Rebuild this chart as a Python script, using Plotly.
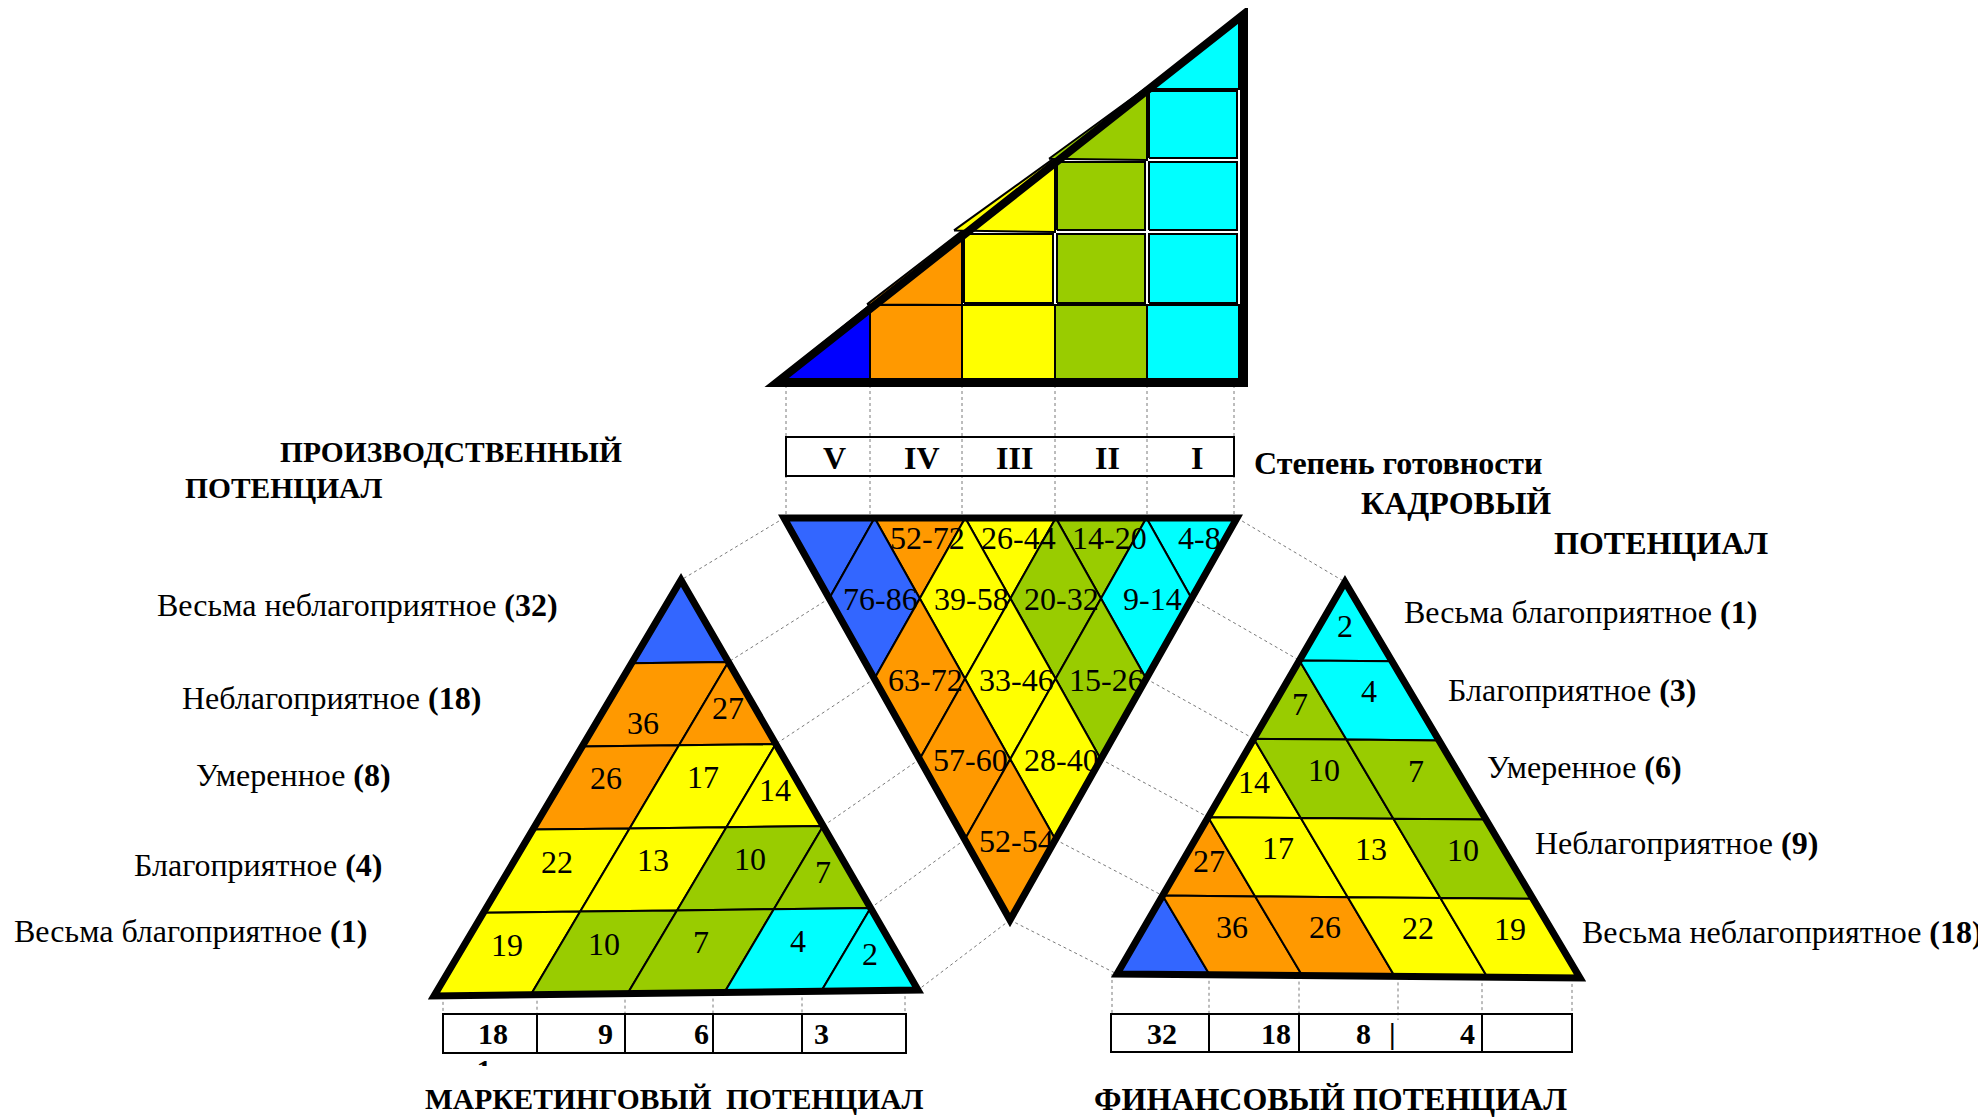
import plotly.graph_objects as go

W, H = 1986, 1117
PAGE_OFFSET = 8          # default body margin of the html page
FONT = "Liberation Serif"
FS = 32

# ---------------- colours ----------------
DBLUE, BLUE, ORANGE, YELLOW, GREEN, CYAN = "#0000FF", "#3366FF", "#FF9900", "#FFFF00", "#99CC00", "#00FFFF"

# ---------------- data ----------------
# top staircase triangle: readiness degree
readiness_levels = ["V", "IV", "III", "II", "I"]
readiness_colors = [DBLUE, ORANGE, YELLOW, GREEN, CYAN]

# inverted triangle (production potential), by diagonal band
prod_labels = [["", "52-72", "26-44", "14-20", "4-8"],
               ["76-86", "39-58", "20-32", "9-14"],
               ["63-72", "33-46", "15-26"],
               ["57-60", "28-40"],
               ["52-54"]]
prod_colors = [[BLUE, ORANGE, YELLOW, GREEN, CYAN],
               [BLUE, YELLOW, GREEN, CYAN],
               [ORANGE, YELLOW, GREEN],
               [ORANGE, YELLOW],
               [ORANGE]]

# left triangle (marketing potential), rows from apex
mark_values = [[""], ["36", "27"], ["26", "17", "14"], ["22", "13", "10", "7"], ["19", "10", "7", "4", "2"]]
mark_colors = [[BLUE], [ORANGE, ORANGE], [ORANGE, YELLOW, YELLOW],
               [YELLOW, YELLOW, GREEN, GREEN], [YELLOW, GREEN, GREEN, CYAN, CYAN]]
mark_row_names = ["Весьма неблагоприятное", "Неблагоприятное", "Умеренное", "Благоприятное", "Весьма благоприятное"]
mark_row_counts = [32, 18, 8, 4, 1]
mark_scale = ["18", "9", "6", "", "3"]

# right triangle (financial potential), rows from apex
fin_values = [["2"], ["7", "4"], ["14", "10", "7"], ["27", "17", "13", "10"], ["", "36", "26", "22", "19"]]
fin_colors = [[CYAN], [GREEN, CYAN], [YELLOW, GREEN, GREEN],
              [ORANGE, YELLOW, YELLOW, GREEN], [BLUE, ORANGE, ORANGE, YELLOW, YELLOW]]
fin_row_names = ["Весьма благоприятное", "Благоприятное", "Умеренное", "Неблагоприятное", "Весьма неблагоприятное"]
fin_row_counts = [1, 3, 6, 9, 18]
fin_scale = ["32", "18", "8", "4", ""]

# ---------------- layout geometry (pixels, y down) ----------------
TOP_X = [778, 870, 962, 1055, 1147, 1239]
TOP_Y = [379, 305, 232, 160, 89, 17]
TOP_SLIVER = [0, 3, 8, 6, 0]
ROMAN_BOX = (786, 437, 1234, 476)
ROMAN_DIV = [786, 870, 962, 1055, 1147, 1234]

PA, PB, PC = (784, 518), (1237, 518), (1010, 920)
MA, MBL, MBR = (681, 580), (434, 996), (918, 990)
FA, FBL, FBR = (1345, 582), (1117, 974), (1580, 978)

MBOX = (443, 1014, 906, 1053)
MBOX_DIV = [537, 625, 713, 802]
MBOX_DOTS = [443, 537, 625, 713, 802, 905]
MBOX_TEXT_X = [493, 605, 701, 760, 821]
FBOX = (1111, 1014, 1572, 1052)
FBOX_DIV = [1209, 1299, 1482]
FBOX_DOTS = [1112, 1209, 1299, 1398, 1482, 1572]
FBOX_TEXT_X = [1162, 1276, 1363, 1467, 1527]
BOX_TEXT_Y = 1033
LABEL_NUDGE = {("mark", 1, 0): (-12, 28)}

fig = go.Figure()
shapes = []
annotations = []


def poly(pts, fill, lw=2):
    xs = [p[0] for p in pts] + [pts[0][0]]
    ys = [p[1] for p in pts] + [pts[0][1]]
    fig.add_trace(go.Scatter(x=xs, y=ys, mode="lines", fill="toself", fillcolor=fill,
                             line=dict(color="black", width=lw), hoverinfo="skip", showlegend=False))


def dotted(p, q):
    fig.add_trace(go.Scatter(x=[p[0], q[0]], y=[p[1], q[1]], mode="lines",
                             line=dict(color="#7a7a7a", width=1, dash="dot"),
                             hoverinfo="skip", showlegend=False))


def outline(pts, lw=7):
    path = "M " + " L ".join(f"{x},{y}" for x, y in pts) + " Z"
    shapes.append(dict(type="path", path=path, xref="x", yref="y",
                       line=dict(color="black", width=lw), fillcolor="rgba(0,0,0,0)", layer="above"))


def rect(x0, y0, x1, y1, lw=2):
    shapes.append(dict(type="rect", x0=x0, y0=y0, x1=x1, y1=y1, xref="x", yref="y",
                       line=dict(color="black", width=lw), fillcolor="rgba(0,0,0,0)", layer="above"))


def vline(x, y0, y1, lw=2):
    shapes.append(dict(type="line", x0=x, x1=x, y0=y0, y1=y1, xref="x", yref="y",
                       line=dict(color="black", width=lw), layer="above"))


def text(x, y, s, size=FS, xanchor="center"):
    annotations.append(dict(x=x, y=y, xref="x", yref="y", text=s, showarrow=False,
                            xanchor=xanchor, yanchor="middle",
                            font=dict(family=FONT, size=size, color="black")))


def lerp(p, q, t):
    return (p[0] + (q[0] - p[0]) * t, p[1] + (q[1] - p[1]) * t)


def mean(pts):
    return (sum(p[0] for p in pts) / len(pts), sum(p[1] for p in pts) / len(pts))


def prod_pt(a, b):
    return (PA[0] + a / 5 * (PB[0] - PA[0]) + (b - a) / 5 * (PC[0] - PA[0]),
            PA[1] + a / 5 * (PB[1] - PA[1]) + (b - a) / 5 * (PC[1] - PA[1]))


def mark_pt(d, s):
    return (MA[0] + d * (MBL[0] - MA[0]) + s * (MBR[0] - MBL[0]),
            MA[1] + d * (MBL[1] - MA[1]) + s * (MBR[1] - MBL[1]))


def fin_pt(d, t):
    return (FA[0] + d * (FBR[0] - FA[0]) - t * (FBR[0] - FBL[0]),
            FA[1] + d * (FBR[1] - FA[1]) - t * (FBR[1] - FBL[1]))


# ---------------- dotted guide lines (behind) ----------------
for x in ROMAN_DIV:
    dotted((x, TOP_Y[0]), (x, PA[1]))
for k in range(6):
    dotted(lerp(PA, PC, k / 5), mark_pt(k / 5, k / 5))
    dotted(lerp(PB, PC, k / 5), fin_pt(k / 5, k / 5))
for x in MBOX_DOTS:
    dotted((x, MBL[1] + (MBR[1] - MBL[1]) * (x - MBL[0]) / (MBR[0] - MBL[0])), (x, MBOX[1]))
for i, x in enumerate(FBOX_DOTS):
    y_end = FBOX[1] + (6 if i == 3 else 0)
    dotted((x, FBL[1] + (FBR[1] - FBL[1]) * (x - FBL[0]) / (FBR[0] - FBL[0])), (x, y_end))

# ---------------- top staircase triangle ----------------
for k, col in enumerate(readiness_colors):
    x0, x1 = TOP_X[k], TOP_X[k + 1]
    for r in range(k):
        inset = 0 if r == 0 else 2
        poly([(x0 + inset, TOP_Y[r] - inset), (x1 - inset, TOP_Y[r] - inset),
              (x1 - inset, TOP_Y[r + 1] + inset), (x0 + inset, TOP_Y[r + 1] + inset)], col)
    s = TOP_SLIVER[k]
    poly([(x0 - s, TOP_Y[k] - s * 0.2), (x1, TOP_Y[k]), (x1, TOP_Y[k + 1] - s * 0.3)], col)
outline([(TOP_X[0] - 2, TOP_Y[0] + 4), (TOP_X[-1] + 5, TOP_Y[0] + 4), (TOP_X[-1] + 5, TOP_Y[-1] - 3)], lw=8)

# Roman numeral scale
rect(*ROMAN_BOX)
for k, lab in enumerate(readiness_levels):
    text((ROMAN_DIV[k] + ROMAN_DIV[k + 1]) / 2 + 6, 458, f"<b>{lab}</b>", size=32)

# ---------------- inverted production triangle ----------------
for d, (labels, colors) in enumerate(zip(prod_labels, prod_colors)):
    for i, (lab, col) in enumerate(zip(labels, colors)):
        j = i + d
        if d == 0:
            pts = [prod_pt(i, i), prod_pt(i + 1, i + 1), prod_pt(i, i + 1)]
            c = prod_pt(i + 1 / 3, i + 2 / 3)
            c = (c[0] + 8, c[1] - 7)
        else:
            pts = [prod_pt(i, j), prod_pt(i + 1, j), prod_pt(i + 1, j + 1), prod_pt(i, j + 1)]
            c = prod_pt(i + 0.5, j + 0.5)
            c = (c[0] + 6, c[1] + 1)
        poly(pts, col)
        if lab:
            text(c[0], c[1], lab)
outline([PA, PB, PC])

# ---------------- left (marketing) triangle ----------------
for r, row in enumerate(mark_values):
    d0, d1 = r / 5, (r + 1) / 5
    for k, (lab, col) in enumerate(zip(row, mark_colors[r])):
        if k < r:
            pts = [mark_pt(d0, k / 5), mark_pt(d0, (k + 1) / 5), mark_pt(d1, (k + 1) / 5), mark_pt(d1, k / 5)]
        else:
            pts = [mark_pt(d0, d0), mark_pt(d1, d1), mark_pt(d1, d0)]
        poly(pts, col)
        if lab:
            c = mean(pts)
            nx, ny = LABEL_NUDGE.get(("mark", r, k), (0, 0))
            text(c[0] + nx, c[1] - 9 + ny, lab)
outline([MA, MBR, MBL])

rect(*MBOX)
for x in MBOX_DIV:
    vline(x, MBOX[1], MBOX[3])
for x, lab in zip(MBOX_TEXT_X, mark_scale):
    if lab:
        text(x, BOX_TEXT_Y, f"<b>{lab}</b>", size=30)

# clipped glyph below the first scale cell (only its top is visible)
fig.add_trace(go.Scatter(x=[484], y=[1072], mode="text", text=["<b>1</b>"],
                         textfont=dict(family=FONT, size=30, color="black"),
                         hoverinfo="skip", showlegend=False))
shapes.append(dict(type="rect", x0=465, x1=505, y0=1066, y1=1090, xref="x", yref="y",
                   line=dict(width=0), fillcolor="white", layer="above"))

LEFT_LABEL_X = [560, 483, 393, 384, 369]
LEFT_LABEL_Y = [605, 698, 775, 865, 931]
for x, y, name, cnt in zip(LEFT_LABEL_X, LEFT_LABEL_Y, mark_row_names, mark_row_counts):
    text(x, y, f"{name} <b>({cnt})</b>", xanchor="right")

# ---------------- right (financial) triangle ----------------
for r, row in enumerate(fin_values):
    d0, d1 = r / 5, (r + 1) / 5
    for q, (lab, col) in enumerate(zip(row, fin_colors[r])):
        if q == 0:
            pts = [fin_pt(d0, d0), fin_pt(d1, d1), fin_pt(d1, d0)]
        else:
            m = r - q
            pts = [fin_pt(d0, (m + 1) / 5), fin_pt(d0, m / 5), fin_pt(d1, m / 5), fin_pt(d1, (m + 1) / 5)]
        poly(pts, col)
        if lab:
            c = mean(pts)
            text(c[0], c[1] - 9, lab)
outline([FA, FBR, FBL])

rect(*FBOX)
for x in FBOX_DIV:
    vline(x, FBOX[1], FBOX[3])
for x, lab in zip(FBOX_TEXT_X, fin_scale):
    if lab:
        text(x, BOX_TEXT_Y, f"<b>{lab}</b>", size=30)
text(1392, BOX_TEXT_Y, "<b>|</b>", size=30)

RIGHT_LABEL_X = [1402, 1446, 1485, 1533, 1580]
RIGHT_LABEL_Y = [612, 690, 767, 843, 932]
for x, y, name, cnt in zip(RIGHT_LABEL_X, RIGHT_LABEL_Y, fin_row_names, fin_row_counts):
    text(x, y, f"{name} <b>({cnt})</b>", xanchor="left")

# ---------------- headings ----------------
text(278, 452, "<b>ПРОИЗВОДСТВЕННЫЙ</b>", size=29.5, xanchor="left")
text(183, 488, "<b>ПОТЕНЦИАЛ</b>", size=29.5, xanchor="left")
text(1252, 463, "<b>Степень готовности</b>", size=32, xanchor="left")
text(1359, 503, "<b>КАДРОВЫЙ</b>", size=32, xanchor="left")
text(1552, 543, "<b>ПОТЕНЦИАЛ</b>", size=32, xanchor="left")
text(423, 1099, "<b>МАРКЕТИНГОВЫЙ\u00a0 ПОТЕНЦИАЛ</b>", size=29.5, xanchor="left")
text(1092, 1099, "<b>ФИНАНСОВЫЙ ПОТЕНЦИАЛ</b>", size=32, xanchor="left")

fig.update_layout(
    width=W - PAGE_OFFSET, height=H - PAGE_OFFSET, margin=dict(l=0, r=0, t=0, b=0),
    paper_bgcolor="white", plot_bgcolor="white",
    xaxis=dict(range=[PAGE_OFFSET, W], visible=False, fixedrange=True),
    yaxis=dict(range=[H, PAGE_OFFSET], visible=False, fixedrange=True),
    shapes=shapes, annotations=annotations, showlegend=False,
)
fig.write_html("out.html")
